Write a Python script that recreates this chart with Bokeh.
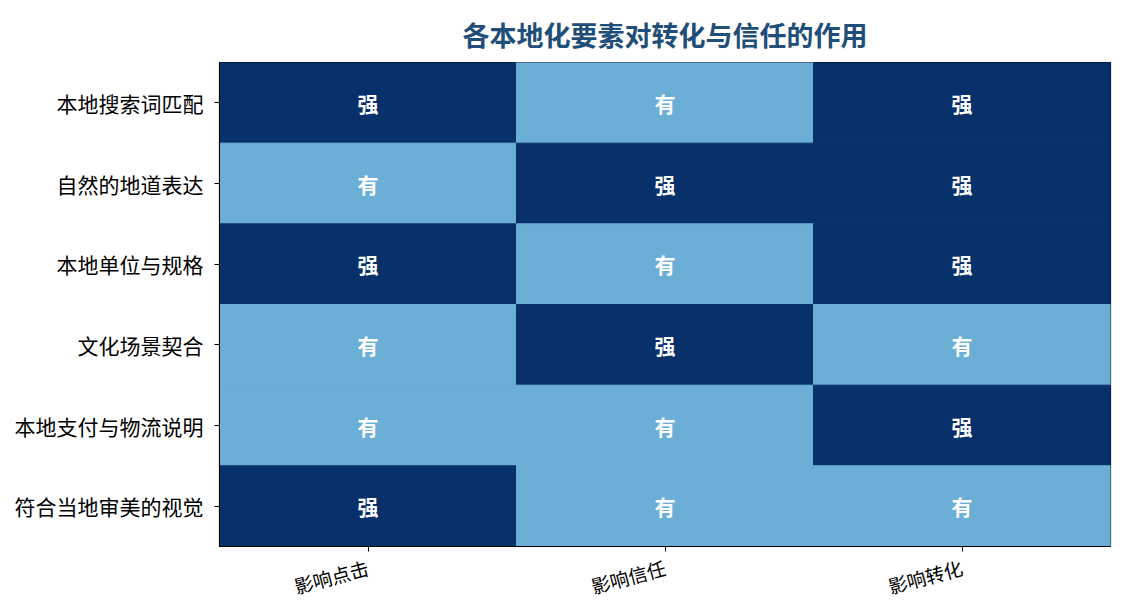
from bokeh.plotting import figure
from bokeh.models import ColumnDataSource, FactorRange
from bokeh.core.properties import value
from bokeh.embed import file_html
from bokeh.resources import INLINE

rows = ["本地搜索词匹配", "自然的地道表达", "本地单位与规格", "文化场景契合", "本地支付与物流说明", "符合当地审美的视觉"]
cols = ["影响点击", "影响信任", "影响转化"]
levels = [
    ["强", "有", "强"],
    ["有", "强", "强"],
    ["强", "有", "强"],
    ["有", "强", "有"],
    ["有", "有", "强"],
    ["强", "有", "有"],
]
level_colors = {"强": "#08306b", "有": "#6baed6"}

FONT = "Noto Sans CJK SC"

xs, ys, labels, colors = [], [], [], []
for r, row in zip(rows, levels):
    for c, lv in zip(cols, row):
        xs.append(c)
        ys.append(r)
        labels.append(lv)
        colors.append(level_colors[lv])

src = ColumnDataSource(dict(x=xs, y=ys, label=labels, color=colors))

p = figure(
    width=1117, height=615,
    x_range=FactorRange(*cols, range_padding=0),
    y_range=FactorRange(*list(reversed(rows)), range_padding=0),
    output_backend="svg", toolbar_location=None,
    min_border_left=219, min_border_right=7, min_border_top=62, min_border_bottom=60,
    title="各本地化要素对转化与信任的作用",
)
p.rect(x="x", y="y", width=1, height=1, fill_color="color", line_color="color",
       line_width=1, source=src)
p.text(x="x", y="y", text="label", source=src, text_color="white",
       text_font=value(FONT), text_font_style="bold", text_font_size="21px",
       text_align="center", text_baseline="middle")

p.title.align = "center"
p.title.text_font = FONT
p.title.text_font_size = "27px"
p.title.text_font_style = "bold"
p.title.text_color = "#1f4e79"
p.title.text_line_height = 0.6
p.title.standoff = 18

p.outline_line_color = "black"
p.outline_line_width = 1.2
p.grid.visible = False

for ax in (p.xaxis[0], p.yaxis[0]):
    ax.axis_line_color = "black"
    ax.major_tick_line_color = "black"
    ax.major_tick_out = 5
    ax.major_tick_in = 0
    ax.minor_tick_line_color = None
    ax.major_label_text_font = FONT
    ax.major_label_text_color = "black"

p.yaxis.major_label_text_font_size = "21px"
p.yaxis.major_label_standoff = 11
p.xaxis.major_label_text_font_size = "19px"
p.xaxis.major_label_orientation = 0.26
p.xaxis.major_label_standoff = 15

open("out.html", "w").write(file_html(p, INLINE))
